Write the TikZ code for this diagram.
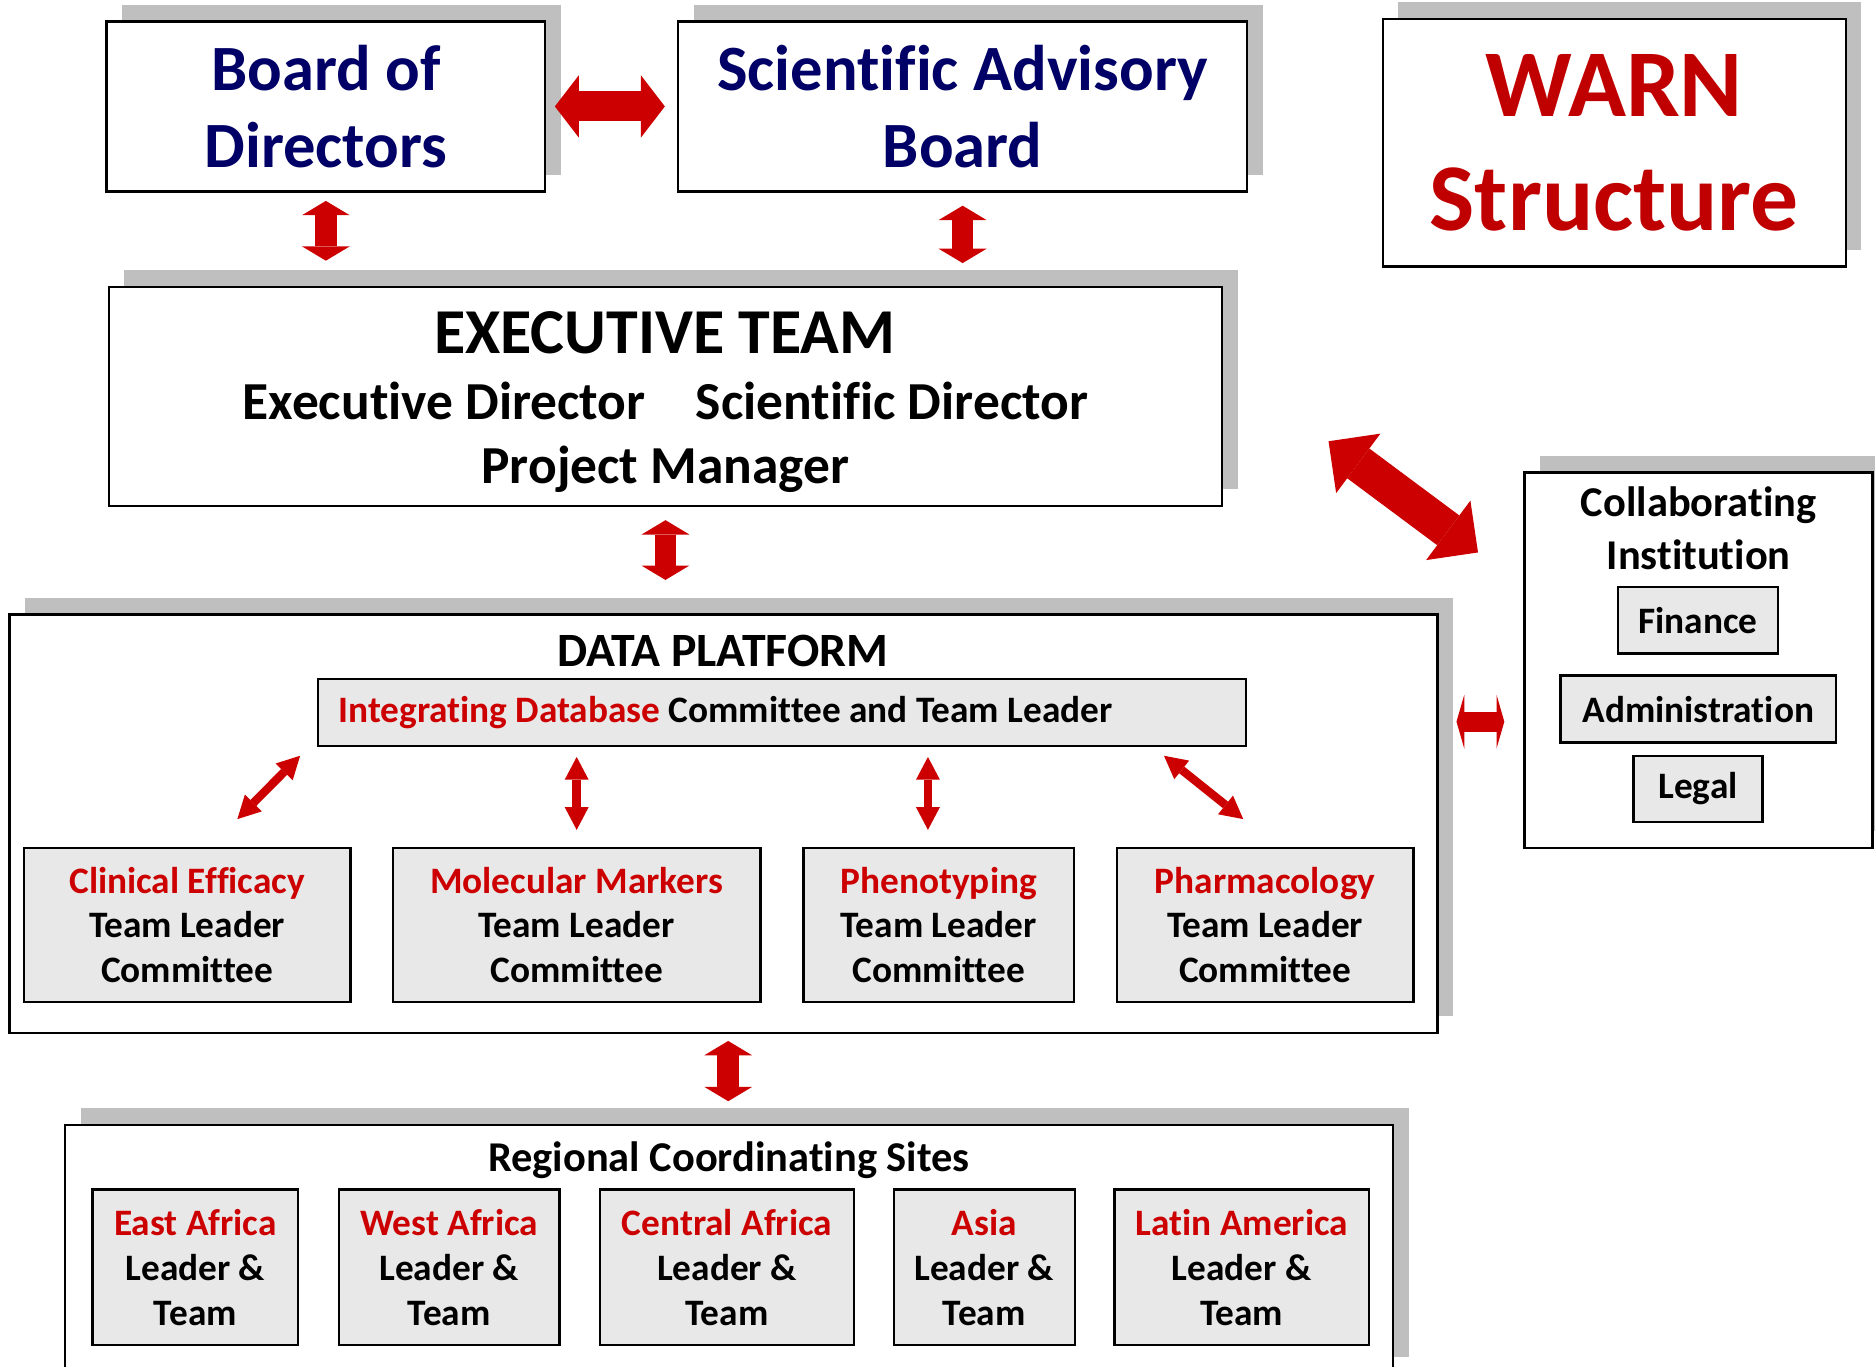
\documentclass[tikz,border=0pt]{standalone}
\usepackage{fontspec}
\setmainfont{Carlito}[Ligatures=NoCommon]
\usetikzlibrary{positioning}
\usetikzlibrary{arrows.meta}
\usetikzlibrary{shadows}
\definecolor{navytext}{RGB}{0,0,102}
\definecolor{warnred}{RGB}{192,0,0}
\definecolor{teamred}{RGB}{204,0,0}
\definecolor{linkred}{RGB}{204,0,0}
\definecolor{shadowgray}{RGB}{191,191,191}
\definecolor{panelgray}{RGB}{232,232,232}
\newcommand{\fsz}[2]{\fontsize{#1}{#2}\selectfont\bfseries}
\newcommand{\redhead}[1]{\textcolor{teamred}{#1}}
\tikzset{
    mybox/.style = {rectangle, draw=black, line width=2pt, fill=white, inner sep=0pt, align=center,
                    drop shadow={shadow xshift=13pt, shadow yshift=14pt, fill=shadowgray, opacity=1}},
    myboxg/.style = {rectangle, draw=black, line width=2pt, fill=panelgray, inner sep=0pt, align=center},
    mytitle/.style = {anchor=base, inner sep=0pt, align=center},
    edgeh/.style = {line width=25pt, linkred, >={Triangle[width=52pt,length=20pt,line width=0pt]}, <->}, % top pair
    edgev/.style = {line width=18pt, linkred, >={Triangle[width=40pt,length=12pt,line width=0pt]}, <->},
    edged/.style = {line width=31pt, linkred, >={Triangle[width=62pt,length=31pt,line width=0pt]}, <->}, % to institution
    edges/.style = {line width=7pt, linkred, >={Triangle[width=20pt,length=19pt,line width=0pt]}, <->}, % inside platform
    edgeb/.style = {line width=17pt, linkred, >={Triangle[width=45pt,length=6.5pt,line width=0pt]}, <->}
}
\begin{document}
\begin{tikzpicture}[x=1pt, y=-1pt, font=\fsz{31.2}{37.5}]
  \useasboundingbox (0,0) rectangle (1568,1143);

  % boards
  \node[mybox, minimum width=367pt, minimum height=142pt, font=\fsz{54}{64}, text=navytext] (bod) at (272.5,89) {Board of\\Directors};
  \node[mybox, minimum width=476pt, minimum height=142pt, font=\fsz{54}{64}, text=navytext] (sab) at (805,89) {Scientific Advisory\\Board};
  \node[mybox, minimum width=387pt, minimum height=207pt, font=\fsz{80}{96}, text=warnred] (warn) at (1350,119.5) {WARN\\Structure};

  % executive team
  \node[mybox, minimum width=931pt, minimum height=183pt] (exec) at (556.5,331.5) {};
  \node[mytitle, font=\fsz{53.5}{62}] (execT) at (556,295.5) {EXECUTIVE TEAM};
  \node[mytitle, font=\fsz{44.7}{53}] (execD) at (556.5,351) {Executive Director\hspace{42pt}Scientific Director};
  \node[mytitle, font=\fsz{44.7}{53}] (execP) at (556.5,404) {Project Manager};

  % data platform
  \node[mybox, minimum width=1194pt, minimum height=350pt] (dp) at (605,689) {};
  \node[mytitle, font=\fsz{40}{48}] (dpT) at (604.5,557.5) {DATA PLATFORM};
  \node[myboxg, minimum width=776pt, minimum height=56pt, text width=742pt, align=flush left] (integ) at (654,596)
    {\redhead{Integrating Database} Committee and Team Leader};
  \node[myboxg, minimum width=273pt, minimum height=129pt] (clin) at (156.5,773.5) {\redhead{Clinical Efficacy}\\Team Leader\\Committee};
  \node[myboxg, minimum width=307.5pt, minimum height=129pt] (mol) at (482.25,773.5) {\redhead{Molecular Markers}\\Team Leader\\Committee};
  \node[myboxg, minimum width=226pt, minimum height=129pt] (phen) at (785,773.5) {\redhead{Phenotyping}\\Team Leader\\Committee};
  \node[myboxg, minimum width=248pt, minimum height=129pt] (pharm) at (1058,773.5) {\redhead{Pharmacology}\\Team Leader\\Committee};

  % collaborating institution
  \node[mybox, minimum width=291pt, minimum height=314pt] (collab) at (1420.5,552) {};
  \node[mytitle, font=\fsz{35.5}{44.5}] (collabT) at (1420.5,476.5) {Collaborating\\Institution};
  \node[myboxg, minimum width=134pt, minimum height=55.5pt] (fin) at (1420,518.7) {Finance};
  \node[myboxg, minimum width=230.5pt, minimum height=56pt] (adm) at (1420.2,593) {Administration};
  \node[myboxg, minimum width=108pt, minimum height=55.5pt] (legal) at (1420,659.8) {Legal};

  % regional sites
  \node[mybox, minimum width=1110.5pt, minimum height=208pt] (reg) at (609.75,1044.9) {};
  \node[mytitle, font=\fsz{35.5}{42}] (regT) at (609.5,980) {Regional Coordinating Sites};
  \node[myboxg, minimum width=172pt, minimum height=130.4pt] (east) at (163.4,1059.8) {\redhead{East Africa}\\Leader \&\\Team};
  \node[myboxg, minimum width=184.6pt, minimum height=130.4pt] (west) at (375.7,1059.8) {\redhead{West Africa}\\Leader \&\\Team};
  \node[myboxg, minimum width=212pt, minimum height=130.4pt] (central) at (608,1059.8) {\redhead{Central Africa}\\Leader \&\\Team};
  \node[myboxg, minimum width=151.4pt, minimum height=130.4pt] (asia) at (823.1,1059.8) {\redhead{Asia}\\Leader \&\\Team};
  \node[myboxg, minimum width=213pt, minimum height=130.4pt] (latam) at (1038.5,1059.8) {\redhead{Latin America}\\Leader \&\\Team};

  % links
  \coordinate (dpc) at ([yshift=85.5pt]dp.east);
  \coordinate (phenTop) at ([xshift=-9pt]phen.north);
  \coordinate (collabA) at (1111,369);
  \coordinate (collabB) at (1236,462);
  \coordinate (clinA) at (251,632);
  \coordinate (clinB) at (198.5,685);
  \coordinate (pharmA) at (973.4,632);
  \coordinate (pharmB) at (1039.7,685);

  \draw[edgeh, shorten <=7pt, shorten >=10pt] (bod.east) -- (sab.west);
  \draw[edgev, shorten <=7pt, shorten >=21pt] (bod.south) -- (bod.south |- exec.north);
  \draw[edgev, shorten <=11pt, shorten >=19pt] (sab.south) -- (sab.south |- exec.north);
  \draw[edgev, shorten <=11pt, shorten >=28pt] (exec.south) -- (exec.south |- dp.north);
  \draw[edgev, shorten <=5.5pt, shorten >=19pt] ([xshift=4pt]dp.south) -- ([xshift=4pt]dp.south |- reg.north);
  \draw[edged] (collabA) -- (collabB);
  \draw[edgeb, shorten <=15pt, shorten >=16pt] (dpc) -- (dpc -| collab.west);
  \draw[edges] (clinA) -- (clinB);
  \draw[edges, shorten <=8pt, shorten >=14pt] (integ.south -| mol.north) -- (mol.north);
  \draw[edges, shorten <=8pt, shorten >=14pt] (phenTop |- integ.south) -- (phenTop);
  \draw[edges] (pharmA) -- (pharmB);
\end{tikzpicture}
\end{document}
